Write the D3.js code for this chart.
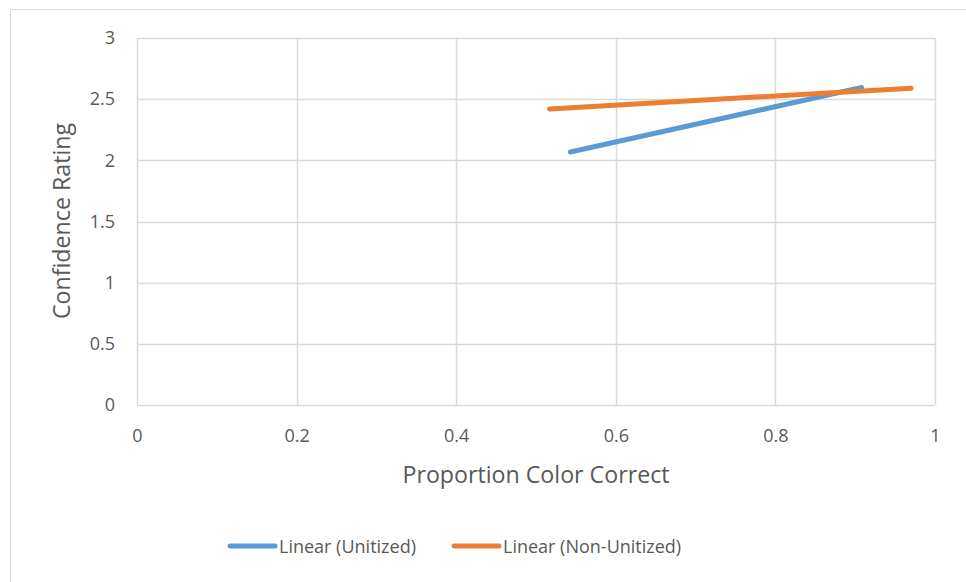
<!DOCTYPE html>
<html><head><meta charset="utf-8">
<script src="https://cdn.jsdelivr.net/npm/d3@7"></script>
<style>body{margin:0;background:#fff}svg{display:block}text{font-family:"Open Sans",sans-serif;fill:#595959}</style>
</head><body><svg id="c" width="966" height="582"></svg>
<script>
const seriesNames = ["Linear (Unitized)", "Linear (Non-Unitized)"];
const seriesColors = ["#5B9BD5", "#ED7D31"];
const unitizedX = [0.543, 0.908];
const unitizedY = [2.068, 2.595];
const nonUnitizedX = [0.517, 0.970];
const nonUnitizedY = [2.42, 2.59];
const xTicks = [0, 0.2, 0.4, 0.6, 0.8, 1];
const yTicks = [0, 0.5, 1, 1.5, 2, 2.5, 3];

const svg = d3.select("#c");
svg.append("rect").attr("x",10.5).attr("y",9.5).attr("width",980).attr("height",600)
  .attr("fill","#fff").attr("stroke","#d9d9d9").attr("stroke-width",1);

const L=137,R=935,T=38,B=405;
const x=d3.scaleLinear().domain([0,1]).range([L,R]);
const y=d3.scaleLinear().domain([0,3]).range([B,T]);

const g=svg.append("g");
g.selectAll(".gx").data(xTicks).join("line")
  .attr("x1",d=>Math.round(x(d))+0.5).attr("x2",d=>Math.round(x(d))+0.5)
  .attr("y1",T).attr("y2",B).attr("stroke","#d9d9d9").attr("stroke-width",1.5);
g.selectAll(".gy").data(yTicks).join("line")
  .attr("y1",d=>Math.round(y(d))+0.5).attr("y2",d=>Math.round(y(d))+0.5)
  .attr("x1",L).attr("x2",R).attr("stroke","#d9d9d9").attr("stroke-width",1.5);

const xa=svg.append("g").attr("transform",`translate(0,${B})`)
  .call(d3.axisBottom(x).tickValues(xTicks).tickSize(0).tickPadding(24).tickFormat(d3.format("")));
xa.select(".domain").remove();
xa.selectAll("text").style("font-size","18px").attr("fill","#595959");
const ya=svg.append("g").attr("transform",`translate(${L},0)`)
  .call(d3.axisLeft(y).tickValues(yTicks).tickSize(0).tickPadding(22).tickFormat(d3.format("")));
ya.select(".domain").remove();
ya.selectAll("text").style("font-size","18px").attr("fill","#595959");

svg.append("text").attr("x",536).attr("y",483).attr("text-anchor","middle")
  .style("font-size","23.2px").text("Proportion Color Correct");
svg.append("text").attr("transform",`translate(70,221) rotate(-90)`).attr("text-anchor","middle")
  .style("font-size","23.2px").text("Confidence Rating");

const line=d3.line().x(d=>x(d[0])).y(d=>y(d[1]));
const data=[d3.zip(unitizedX,unitizedY), d3.zip(nonUnitizedX,nonUnitizedY)];
svg.selectAll(".s").data(data).join("path")
  .attr("d",line).attr("fill","none").attr("stroke",(d,i)=>seriesColors[i])
  .attr("stroke-width",5).attr("stroke-linecap","round");

const legX=[230,454];
const lg=svg.selectAll(".lg").data(seriesNames).join("g").attr("transform",(d,i)=>`translate(${legX[i]},546)`);
lg.append("line").attr("x1",0).attr("x2",45).attr("stroke",(d,i)=>seriesColors[i]).attr("stroke-width",5).attr("stroke-linecap","round");
lg.append("text").attr("x",49).attr("y",6.5).style("font-size","18px").text(d=>d);
</script></body></html>
